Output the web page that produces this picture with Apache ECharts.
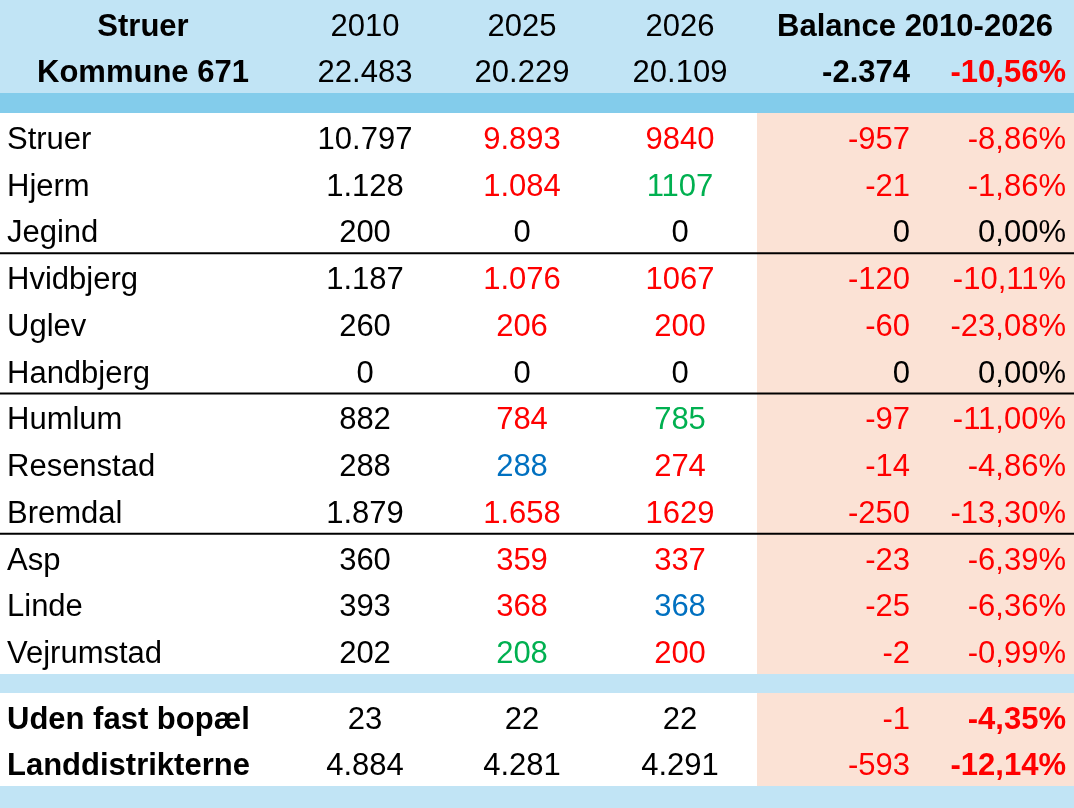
<!DOCTYPE html>
<html><head><meta charset="utf-8">
<script src="https://cdn.jsdelivr.net/npm/echarts@6/dist/echarts.min.js"></script>
<style>html,body{margin:0;padding:0;background:#fff}#c{width:1074px;height:808px}</style>
</head><body><div id="c"></div>
<script>
// ---------- data ----------
const headerLabels = ['Struer', 'Kommune 671'];
const yearLabels = ['2010', '2025', '2026'];
const balanceTitle = 'Balance 2010-2026';
const totalValues = [22483, 20229, 20109];
const totalBalance = -2374;
const totalPct = -10.56;

const villages = ['Struer','Hjerm','Jegind','Hvidbjerg','Uglev','Handbjerg','Humlum','Resenstad','Bremdal','Asp','Linde','Vejrumstad'];
const v2010 = [10797,1128,200,1187,260,0,882,288,1879,360,393,202];
const v2025 = [9893,1084,0,1076,206,0,784,288,1658,359,368,208];
const v2026 = [9840,1107,0,1067,200,0,785,274,1629,337,368,200];
const balance = [-957,-21,0,-120,-60,0,-97,-14,-250,-23,-25,-2];
const pct = [-8.86,-1.86,0.00,-10.11,-23.08,0.00,-11.00,-4.86,-13.30,-6.39,-6.36,-0.99];
const groupEnds = [2,5,8];

const extraLabels = ['Uden fast bopæl','Landdistrikterne'];
const e2010 = [23,4884];
const e2025 = [22,4281];
const e2026 = [22,4291];
const eBalance = [-1,-593];
const ePct = [-4.35,-12.14];

// ---------- formatting ----------
function sep(n){const s=n<0?'-':'';const a=String(Math.abs(n));return s+a.replace(/\B(?=(\d{3})+(?!\d))/g,'.');}
function plain(n){return String(n);}
function pctf(p){return p.toFixed(2).replace('.',',')+'%';}
const RED='#FF0000', GREEN='#00B050', BLUE='#0070C0', BLACK='#000000';
function trend(cur,prev){if(cur===0)return BLACK;if(cur<prev)return RED;if(cur>prev)return GREEN;return BLUE;}
function neg(n){return n<0?RED:BLACK;}

// ---------- layout (pixel-like axis units) ----------
const W=1074, H=808;
const HEAD_H=46.5, STRIP1=20, ROW_H=46.75, STRIP2=19, EXTRA_H=46.5;
const X_LABEL=7, X_C=[365,522,680], X_BAL=910, X_PCT=1066, X_HEAD0=143, X_BALHEAD=915, X_PINK=757;
const FONT='"Liberation Sans", Arial, sans-serif';
const FS=31;
const TEXT_DY=4;

const rects=[]; const lines=[]; const cells=[];
function cell(x,y,text,align,color,bold){cells.push({x,y,text,align,color,bold});}

let y=0;
rects.push({x0:0,x1:W,y0:0,y1:HEAD_H*2,color:'#C1E4F5'});
let cy=y+HEAD_H/2;
cell(X_HEAD0,cy,headerLabels[0],'center',BLACK,true);
yearLabels.forEach((t,i)=>cell(X_C[i],cy,t,'center',BLACK,false));
cell(X_BALHEAD,cy,balanceTitle,'center',BLACK,true);
y+=HEAD_H; cy=y+HEAD_H/2;
cell(X_HEAD0,cy,headerLabels[1],'center',BLACK,true);
totalValues.forEach((v,i)=>cell(X_C[i],cy,sep(v),'center',BLACK,false));
cell(X_BAL,cy,sep(totalBalance),'right',BLACK,true);
cell(X_PCT,cy,pctf(totalPct),'right',RED,true);
y+=HEAD_H;
rects.push({x0:0,x1:W,y0:y,y1:y+STRIP1,color:'#83CCEB'});
y+=STRIP1;
const dataTop=y;
rects.push({x0:X_PINK,x1:W,y0:dataTop,y1:dataTop+ROW_H*villages.length,color:'#FBE2D5'});
villages.forEach((name,i)=>{
  const c=y+ROW_H/2;
  cell(X_LABEL,c,name,'left',BLACK,false);
  cell(X_C[0],c,sep(v2010[i]),'center',BLACK,false);
  cell(X_C[1],c,sep(v2025[i]),'center',trend(v2025[i],v2010[i]),false);
  cell(X_C[2],c,plain(v2026[i]),'center',trend(v2026[i],v2025[i]),false);
  cell(X_BAL,c,plain(balance[i]),'right',neg(balance[i]),false);
  cell(X_PCT,c,pctf(pct[i]),'right',neg(pct[i]),false);
  y+=ROW_H;
  if(groupEnds.indexOf(i)>=0) lines.push({x0:0,x1:W,y:y});
});
rects.push({x0:0,x1:W,y0:y,y1:y+STRIP2,color:'#C1E4F5'});
y+=STRIP2;
rects.push({x0:X_PINK,x1:W,y0:y,y1:y+EXTRA_H*extraLabels.length,color:'#FBE2D5'});
extraLabels.forEach((name,i)=>{
  const c=y+EXTRA_H/2;
  cell(X_LABEL,c,name,'left',BLACK,true);
  cell(X_C[0],c,sep(e2010[i]),'center',BLACK,false);
  cell(X_C[1],c,sep(e2025[i]),'center',BLACK,false);
  cell(X_C[2],c,sep(e2026[i]),'center',BLACK,false);
  cell(X_BAL,c,plain(eBalance[i]),'right',neg(eBalance[i]),false);
  cell(X_PCT,c,pctf(ePct[i]),'right',RED,true);
  y+=EXTRA_H;
});
rects.push({x0:0,x1:W,y0:y,y1:H,color:'#C1E4F5'});

// ---------- chart ----------
const chart=echarts.init(document.getElementById('c'),null,{renderer:'canvas'});
chart.setOption({
  animation:false,
  grid:{left:0,right:0,top:0,bottom:0},
  xAxis:{type:'value',min:0,max:W,show:false},
  yAxis:{type:'value',min:0,max:H,inverse:true,show:false},
  series:[
    {type:'custom',coordinateSystem:'cartesian2d',silent:true,z:1,
     data:rects.map(r=>[r.x0,r.y0,r.x1,r.y1]),
     renderItem:(p,api)=>{const a=api.coord([api.value(0),api.value(1)]);const b=api.coord([api.value(2),api.value(3)]);
       return {type:'rect',shape:{x:a[0],y:a[1],width:b[0]-a[0],height:b[1]-a[1]},style:{fill:rects[p.dataIndex].color}};}},
    {type:'custom',coordinateSystem:'cartesian2d',silent:true,z:2,
     data:lines.map(l=>[l.x0,l.y,l.x1]),
     renderItem:(p,api)=>{const a=api.coord([api.value(0),api.value(1)]);const b=api.coord([api.value(2),api.value(1)]);
       return {type:'line',shape:{x1:a[0],y1:a[1],x2:b[0],y2:b[1]},style:{stroke:'#000',lineWidth:2}};}},
    {type:'custom',coordinateSystem:'cartesian2d',silent:true,z:3,
     data:cells.map(c=>[c.x,c.y]),
     renderItem:(p,api)=>{const c=cells[p.dataIndex];const pt=api.coord([api.value(0),api.value(1)]);
       return {type:'text',x:pt[0],y:pt[1]+TEXT_DY,style:{text:c.text,fill:c.color,fontFamily:FONT,fontSize:FS,fontWeight:c.bold?'bold':'normal',align:c.align,verticalAlign:'middle'}};}}
  ]
});
</script></body></html>
